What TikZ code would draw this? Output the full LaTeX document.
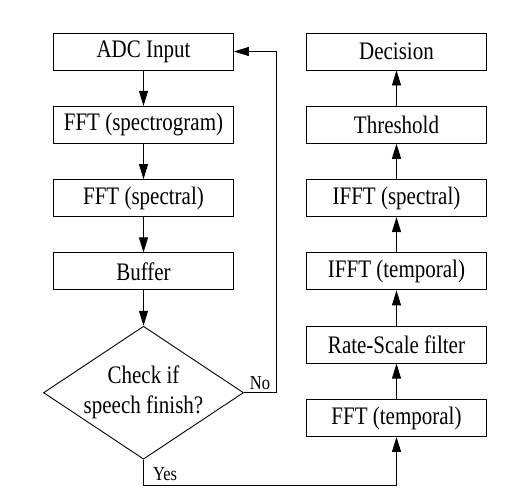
\documentclass[tikz,border=0pt]{standalone}
\usepackage{fontspec}
\setmainfont{Liberation Serif}
\usepackage{graphicx}
\usetikzlibrary{positioning}
\usetikzlibrary{shapes.geometric}
\usetikzlibrary{arrows.meta}
\newcommand{\tall}[1]{\scalebox{1}[1.2]{#1}} % taller letters as in the figure
\tikzset{node distance=35.4pt,
block/.style={ % Sets the properties for each box
draw,
line width=0.9pt,
minimum width=180pt,
minimum height=37pt,
font=\fontsize{21}{26}\selectfont},
decide/.style={ % the check diamond
draw,
diamond,
aspect=1.5,
line width=0.9pt,
inner sep=0pt,
minimum width=200pt,
minimum height=133pt,
align=center,
font=\fontsize{21}{30}\selectfont},
flow/.style={ % Sets the properties for each connector
draw,
line width=0.9pt,
-{Triangle[length=15pt,width=9pt]}},
lbl/.style={font=\fontsize{16.5}{18}\selectfont}}

\begin{document}
\begin{tikzpicture}
\useasboundingbox (0pt,0pt) rectangle (524pt,-503pt);
% left column
\node[block] (adc) at (143.5pt,-51.5pt) {\tall{ADC Input}};
\node[block, below=of adc] (spectro) {\tall{FFT (spectrogram)}};
\node[block, below=of spectro] (spectral) {\tall{FFT (spectral)}};
\node[block, below=of spectral] (buffer) {\tall{Buffer}};
\node[decide, below=of buffer] (check) {\tall{Check if}\\\tall{speech finish?}};
% right column
\node[block] (decision) at (396.5pt,-51.5pt) {\tall{Decision}};
\node[block, below=of decision] (thresh) {\tall{Threshold}};
\node[block, below=of thresh] (ifftspec) {\tall{IFFT (spectral)}};
\node[block, below=of ifftspec] (iffttemp) {\tall{IFFT (temporal)}};
\node[block, below=of iffttemp] (ratescale) {\tall{Rate-Scale filter}};
\node[block, below=of ratescale] (ffttemp) {\tall{FFT (temporal)}};

\draw[flow] (adc) -- (spectro);
\draw[flow] (spectro) -- (spectral);
\draw[flow] (spectral) -- (buffer);
\draw[flow] (buffer) -- (check);
\draw[flow] (check.east) -- node[lbl, above, inner sep=3pt] {\tall{No}} ++(32pt,0) |- (adc.east);
\draw[flow] (check.south) -- ++(0,-26pt) -| (ffttemp.south);
\node[lbl, below right=4pt and 6pt of check.south] (yes) {\tall{Yes}};
\draw[flow] (ffttemp) -- (ratescale);
\draw[flow] (ratescale) -- (iffttemp);
\draw[flow] (iffttemp) -- (ifftspec);
\draw[flow] (ifftspec) -- (thresh);
\draw[flow] (thresh) -- (decision);
\end{tikzpicture}
\end{document}
